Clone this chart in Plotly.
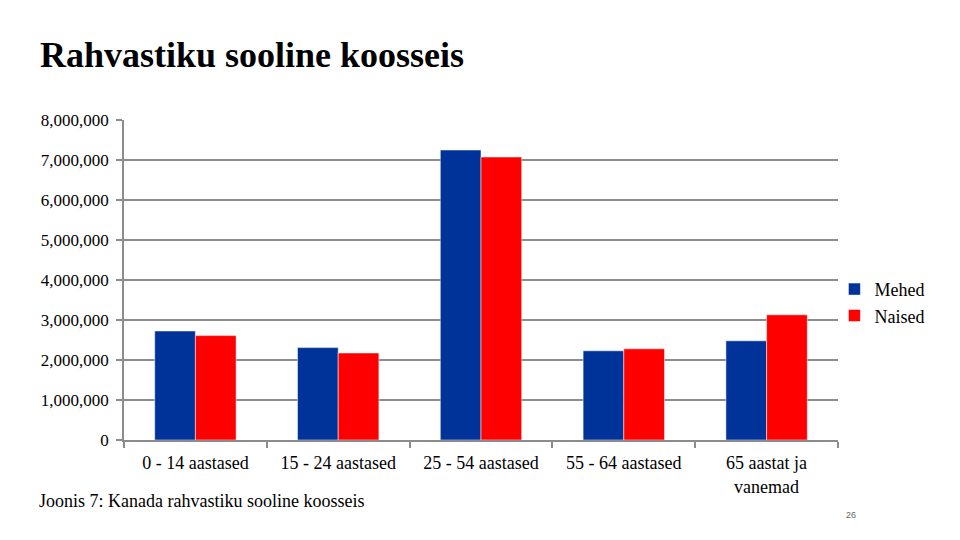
import plotly.graph_objects as go

categories = ["0 - 14 aastased", "15 - 24 aastased", "25 - 54 aastased", "55 - 64 aastased", "65 aastat ja<br>vanemad"]
mehed = [2725000, 2310000, 7250000, 2230000, 2480000]
naised = [2610000, 2175000, 7075000, 2280000, 3130000]
y_ticks = [0, 1000000, 2000000, 3000000, 4000000, 5000000, 6000000, 7000000, 8000000]

SERIF = "Liberation Serif"
GRID = "#8c8c8c"
OFF = 8  # default page body margin
W, H = 960 - OFF, 540 - OFF

fig = go.Figure()
fig.add_trace(go.Bar(name="Mehed", x=categories, y=mehed, marker=dict(color="#003399", line=dict(color="white", width=0.5))))
fig.add_trace(go.Bar(name="Naised", x=categories, y=naised, marker=dict(color="#ff0000", line=dict(color="white", width=0.5))))

fig.update_layout(
    width=W, height=H,
    paper_bgcolor="white", plot_bgcolor="white",
    margin=dict(l=124 - OFF, r=122, t=120 - OFF, b=100, pad=0),
    barmode="group", bargap=0.43, bargroupgap=0.0,
    font=dict(family=SERIF, size=18, color="black"),
    showlegend=True,
    legend=dict(x=0.995, y=0.43, xanchor="left", yanchor="middle",
                font=dict(family=SERIF, size=18, color="black"),
                itemwidth=30, bgcolor="rgba(0,0,0,0)"),
    title=dict(text="<b>Rahvastiku sooline koosseis</b>", x=(40 - OFF) / W, xanchor="left",
               y=1 - (54 - OFF) / H, yanchor="middle",
               font=dict(family=SERIF, size=36, color="black")),
)
fig.update_yaxes(
    range=[0, 8000000], tickvals=y_ticks, tickformat=",d",
    showgrid=True, gridcolor=GRID, gridwidth=1.5,
    showline=True, linecolor=GRID, linewidth=1.5,
    ticks="outside", ticklen=6, tickcolor=GRID, tickwidth=1.5,
    tickfont=dict(family=SERIF, size=17, color="black"),
    ticklabelstandoff=4,
    zeroline=False, fixedrange=True,
)
fig.update_xaxes(
    showline=True, linecolor=GRID, linewidth=1.5,
    ticks="outside", tickson="boundaries", ticklen=6, tickcolor=GRID, tickwidth=1.5,
    tickfont=dict(family=SERIF, size=18, color="black"),
    ticklabelstandoff=6,
    showgrid=False, fixedrange=True,
)
fig.add_annotation(text="Joonis 7: Kanada rahvastiku sooline koosseis", xref="paper", yref="paper",
                   x=(37 - 124) / 714, y=(440 - 501) / 320, xanchor="left", yanchor="middle",
                   showarrow=False, font=dict(family=SERIF, size=18, color="black"))
fig.add_annotation(text="26", xref="paper", yref="paper",
                   x=(851 - 124) / 714, y=(440 - 515) / 320, xanchor="center", yanchor="middle",
                   showarrow=False, font=dict(family="Liberation Sans", size=9, color="#666666"))

fig.write_html("out.html")
